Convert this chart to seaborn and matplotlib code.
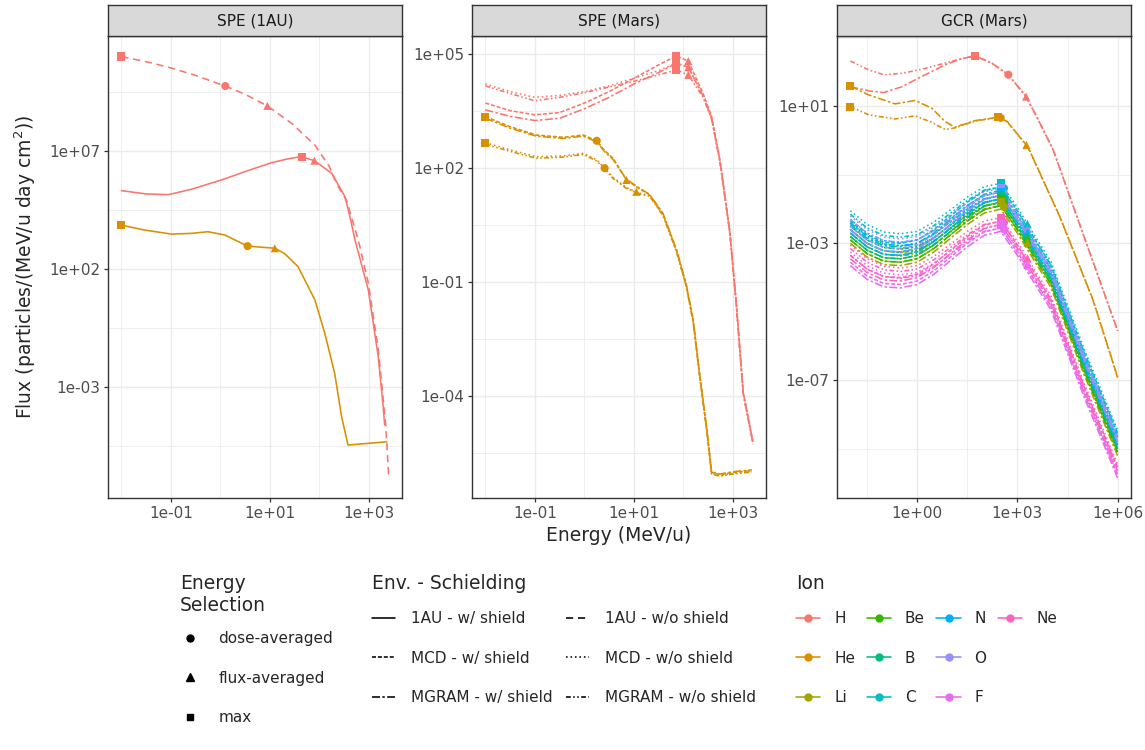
import matplotlib
matplotlib.use("Agg")

import matplotlib.pyplot as plt
import numpy as np
import pandas as pd
import seaborn as sns
from matplotlib.lines import Line2D
from matplotlib.ticker import FixedLocator, FuncFormatter, NullFormatter

# ----------------------------------------------------------------------------
# Data: log10(energy, MeV/u) and log10(flux)
# ----------------------------------------------------------------------------
IONS = ["H", "He", "Li", "Be", "B", "C", "N", "O", "F", "Ne"]
ION_COLORS = ["#F8766D", "#D89000", "#A3A500", "#39B600", "#00BF7D",
              "#00BFC4", "#00B0F6", "#9590FF", "#E76BF3", "#FF62BC"]
ENVS = ["1AU - w/ shield", "1AU - w/o shield", "MCD - w/ shield",
        "MCD - w/o shield", "MGRAM - w/ shield", "MGRAM - w/o shield"]
SELECTIONS = ["dose-averaged", "flux-averaged", "max"]
PANELS = ["SPE (1AU)", "SPE (Mars)", "GCR (Mars)"]

# SPE (1AU)
SPE1_H_W_E = [-2.0, -1.5, -1.05, -0.58, 0.02, 0.56, 1.03, 1.35, 1.63, 1.9,
              2.25, 2.52, 2.62, 2.72, 2.99, 3.19, 3.29, 3.32]
SPE1_H_W_F = [5.32, 5.18, 5.15, 5.38, 5.77, 6.17, 6.5, 6.66, 6.76, 6.59,
              6.05, 5.06, 4.2, 3.23, 1.11, -1.72, -3.83, -4.61]
SPE1_H_WO_E = [-2.0, -1.5, -1.05, -0.5, 0.1, 0.5, 0.95, 1.44, 1.91, 2.2,
               2.38, 2.55, 2.79, 2.99, 3.19, 3.29, 3.34, 3.37, 3.4]
SPE1_H_WO_F = [11.0, 10.78, 10.55, 10.2, 9.75, 9.4, 8.91, 8.17, 7.25, 6.35,
               5.49, 4.9, 3.2, 1.4, -1.4, -3.5, -4.6, -5.6, -6.8]
SPE1_HE_W_E = [-2.0, -1.53, -0.99, -0.58, -0.25, 0.09, 0.55, 1.1, 1.3, 1.57,
               1.91, 2.11, 2.31, 2.45, 2.58, 2.78, 3.36]
SPE1_HE_W_F = [3.86, 3.65, 3.48, 3.51, 3.58, 3.44, 2.97, 2.88, 2.65, 2.1,
               0.69, -0.72, -2.42, -4.26, -5.46, -5.42, -5.32]

SPE1_MARK_ION = ["H", "H", "H", "H", "H", "He", "He", "He"]
SPE1_MARK_SEL = ["max", "dose-averaged", "flux-averaged", "max",
                 "flux-averaged", "max", "dose-averaged", "flux-averaged"]
SPE1_MARK_E = [-2.0, 0.1, 0.95, 1.65, 1.9, -2.0, 0.55, 1.1]
SPE1_MARK_F = [11.0, 9.75, 8.91, 6.76, 6.59, 3.86, 2.97, 2.88]

# SPE (Mars)
SPE2_H_E = [-2.0, -1.5, -1.0, -0.5, 0.0, 0.5, 1.0, 1.5, 1.86, 2.1, 2.4,
            2.57, 2.74, 2.94, 3.07, 3.21, 3.41]
SPE2_H_MCD_W = [3.70, 3.5, 3.39, 3.45, 3.7, 4.0, 4.35, 4.7, 4.94, 4.8, 3.95,
                3.35, 2.2, 0.32, -1.56, -3.9, -5.22]
SPE2_H_MCD_WO = [4.2, 4.0, 3.85, 3.9, 4.0, 4.15, 4.35, 4.55, 4.75, 4.64, 3.9,
                 3.3, 2.17, 0.3, -1.58, -3.92, -5.24]
SPE2_H_MGRAM_W = [3.52, 3.35, 3.24, 3.3, 3.55, 3.85, 4.2, 4.5, 4.75, 4.64,
                  3.88, 3.3, 2.17, 0.3, -1.58, -3.92, -5.24]
SPE2_H_MGRAM_WO = [4.15, 3.95, 3.76, 3.85, 3.97, 4.12, 4.27, 4.44, 4.57, 4.44,
                   3.85, 3.28, 2.15, 0.28, -1.6, -3.94, -5.26]

SPE2_HE_E = [-2.0, -1.5, -0.97, -0.43, -0.02, 0.25, 0.41, 0.58, 0.85, 1.12,
             1.32, 1.59, 1.86, 2.06, 2.2, 2.33, 2.47, 2.57, 2.74, 3.0, 3.38]
SPE2_HE_MCD_W = [3.34, 3.08, 2.86, 2.80, 2.86, 2.71, 2.45, 2.25, 1.68, 1.44,
                 1.29, 0.78, -0.16, -1.09, -2.03, -3.44, -4.84, -6.0, -6.06,
                 -6.0, -5.95]
SPE2_HE_MGRAM_W = [3.30, 3.04, 2.83, 2.77, 2.83, 2.68, 2.42, 2.22, 1.70, 1.46,
                   1.30, 0.80, -0.14, -1.07, -2.0, -3.42, -4.82, -5.98, -6.04,
                   -5.98, -5.93]
SPE2_HE_MCD_WO = [2.66, 2.47, 2.29, 2.31, 2.38, 2.21, 1.99, 1.75, 1.48, 1.33,
                  1.27, 0.76, -0.18, -1.1, -2.05, -3.46, -4.86, -6.02, -6.08,
                  -6.02, -5.97]
SPE2_HE_MGRAM_WO = [2.62, 2.43, 2.25, 2.28, 2.35, 2.18, 1.97, 1.72, 1.46,
                    1.31, 1.25, 0.74, -0.2, -1.12, -2.07, -3.48, -4.88, -6.04,
                    -6.1, -6.04, -5.99]

SPE2_MARK_ION = ["H", "H", "H", "H", "H", "H",
                 "He", "He", "He", "He", "He", "He"]
SPE2_MARK_SEL = ["max", "max", "max", "flux-averaged", "flux-averaged",
                 "flux-averaged", "max", "max", "dose-averaged",
                 "dose-averaged", "flux-averaged", "flux-averaged"]
SPE2_MARK_E = [1.86, 1.86, 1.86, 2.1, 2.1, 2.1,
               -2.0, -2.0, 0.25, 0.41, 0.85, 1.05]
SPE2_MARK_F = [4.94, 4.75, 4.57, 4.8, 4.64, 4.44,
               3.34, 2.66, 2.71, 1.99, 1.68, 1.37]

# GCR (Mars), H and He
GCR_H_E = [-2.0, -1.45, -1.0, -0.46, 0.14, 0.84, 1.3, 1.73, 2.23, 2.73,
           3.26, 3.6, 4.07, 5.0, 6.0]
GCR_H_MGRAM_W = [1.57, 1.45, 1.40, 1.57, 1.87, 2.21, 2.38, 2.47, 2.26, 1.92,
                 1.28, 0.65, -0.27, -2.82, -5.55]
GCR_H_MGRAM_WO = [2.32, 2.06, 1.92, 1.96, 2.08, 2.26, 2.38, 2.47, 2.26, 1.92,
                  1.28, 0.65, -0.27, -2.82, -5.55]
GCR_HE_E = [-2.0, -1.45, -0.66, -0.06, 0.44, 0.84, 1.13, 1.73, 2.43, 2.7,
            3.27, 3.37, 4.27, 5.26, 6.0]
GCR_HE_MGRAM_W = [1.59, 1.33, 1.07, 1.17, 0.94, 0.55, 0.39, 0.58, 0.68, 0.55,
                  -0.13, -0.3, -2.22, -4.64, -6.9]
GCR_HE_MGRAM_WO = [0.99, 0.75, 0.63, 0.72, 0.53, 0.32, 0.37, 0.57, 0.67, 0.54,
                   -0.14, -0.31, -2.23, -4.65, -6.92]

# GCR (Mars), heavy ions: rows = MCD w/, MCD w/o, MGRAM w/, MGRAM w/o
GCR_HEAVY_E = [-2.0, -1.5, -1.0, -0.5, 0.0, 0.5, 1.0, 1.5, 2.0, 2.5, 3.0,
               3.5, 4.0, 5.0, 6.0]
GCR_C = [
    [-2.35, -2.75, -2.97, -3.0, -2.9, -2.6, -2.2, -1.8, -1.47, -1.35, -2.05, -2.85, -3.63, -6.19, -8.55],
    [-2.05, -2.45, -2.67, -2.72, -2.65, -2.38, -2.02, -1.65, -1.35, -1.25, -1.95, -2.75, -3.53, -6.09, -8.45],
    [-2.45, -2.85, -3.07, -3.1, -3.0, -2.7, -2.3, -1.9, -1.57, -1.45, -2.15, -2.95, -3.73, -6.29, -8.65],
    [-2.15, -2.55, -2.77, -2.82, -2.75, -2.48, -2.12, -1.75, -1.45, -1.35, -2.05, -2.85, -3.63, -6.19, -8.55],
]
GCR_O = [
    [-2.5, -2.9, -3.12, -3.15, -3.05, -2.75, -2.35, -1.95, -1.62, -1.5, -2.2, -3.0, -3.78, -6.34, -8.7],
    [-2.2, -2.6, -2.82, -2.87, -2.8, -2.53, -2.17, -1.8, -1.5, -1.4, -2.1, -2.9, -3.68, -6.24, -8.6],
    [-2.6, -3.0, -3.22, -3.25, -3.15, -2.85, -2.45, -2.05, -1.72, -1.6, -2.3, -3.1, -3.88, -6.44, -8.8],
    [-2.3, -2.7, -2.92, -2.97, -2.9, -2.63, -2.27, -1.9, -1.6, -1.5, -2.2, -3.0, -3.78, -6.34, -8.7],
]
GCR_N = [
    [-2.6, -3.0, -3.22, -3.25, -3.15, -2.85, -2.45, -2.05, -1.72, -1.6, -2.3, -3.1, -3.88, -6.44, -8.8],
    [-2.3, -2.7, -2.92, -2.97, -2.9, -2.63, -2.27, -1.9, -1.6, -1.5, -2.2, -3.0, -3.78, -6.34, -8.7],
    [-2.7, -3.1, -3.32, -3.35, -3.25, -2.95, -2.55, -2.15, -1.82, -1.7, -2.4, -3.2, -3.98, -6.54, -8.9],
    [-2.4, -2.8, -3.02, -3.07, -3.0, -2.73, -2.37, -2.0, -1.7, -1.6, -2.3, -3.1, -3.88, -6.44, -8.8],
]
GCR_B = [
    [-2.7, -3.1, -3.32, -3.35, -3.25, -2.95, -2.55, -2.15, -1.82, -1.7, -2.4, -3.2, -3.98, -6.54, -8.9],
    [-2.4, -2.8, -3.02, -3.07, -3.0, -2.73, -2.37, -2.0, -1.7, -1.6, -2.3, -3.1, -3.88, -6.44, -8.8],
    [-2.8, -3.2, -3.42, -3.45, -3.35, -3.05, -2.65, -2.25, -1.92, -1.8, -2.5, -3.3, -4.08, -6.64, -9.0],
    [-2.5, -2.9, -3.12, -3.17, -3.1, -2.83, -2.47, -2.1, -1.8, -1.7, -2.4, -3.2, -3.98, -6.54, -8.9],
]
GCR_BE = [
    [-2.8, -3.2, -3.42, -3.45, -3.35, -3.05, -2.65, -2.25, -1.92, -1.8, -2.5, -3.3, -4.08, -6.64, -9.0],
    [-2.5, -2.9, -3.12, -3.17, -3.1, -2.83, -2.47, -2.1, -1.8, -1.7, -2.4, -3.2, -3.98, -6.54, -8.9],
    [-2.9, -3.3, -3.52, -3.55, -3.45, -3.15, -2.75, -2.35, -2.02, -1.9, -2.6, -3.4, -4.18, -6.74, -9.1],
    [-2.6, -3.0, -3.22, -3.27, -3.2, -2.93, -2.57, -2.2, -1.9, -1.8, -2.5, -3.3, -4.08, -6.64, -9.0],
]
GCR_LI = [
    [-2.9, -3.3, -3.52, -3.55, -3.45, -3.15, -2.75, -2.35, -2.02, -1.9, -2.6, -3.4, -4.18, -6.74, -9.1],
    [-2.6, -3.0, -3.22, -3.27, -3.2, -2.93, -2.57, -2.2, -1.9, -1.8, -2.5, -3.3, -4.08, -6.64, -9.0],
    [-3.0, -3.4, -3.62, -3.65, -3.55, -3.25, -2.85, -2.45, -2.12, -2.0, -2.7, -3.5, -4.28, -6.84, -9.2],
    [-2.7, -3.1, -3.32, -3.37, -3.3, -3.03, -2.67, -2.3, -2.0, -1.9, -2.6, -3.4, -4.18, -6.74, -9.1],
]
GCR_NE = [
    [-3.35, -3.75, -3.97, -4.0, -3.9, -3.6, -3.2, -2.8, -2.47, -2.35, -3.05, -3.85, -4.63, -7.19, -9.55],
    [-3.05, -3.45, -3.67, -3.72, -3.65, -3.38, -3.02, -2.65, -2.35, -2.25, -2.95, -3.75, -4.53, -7.09, -9.45],
    [-3.45, -3.85, -4.07, -4.1, -4.0, -3.7, -3.3, -2.9, -2.57, -2.45, -3.15, -3.95, -4.73, -7.29, -9.65],
    [-3.15, -3.55, -3.77, -3.82, -3.75, -3.48, -3.12, -2.75, -2.45, -2.35, -3.05, -3.85, -4.63, -7.19, -9.55],
]
GCR_F = [
    [-3.55, -3.95, -4.17, -4.2, -4.1, -3.8, -3.4, -3.0, -2.67, -2.55, -3.25, -4.05, -4.83, -7.39, -9.75],
    [-3.25, -3.65, -3.87, -3.92, -3.85, -3.58, -3.22, -2.85, -2.55, -2.45, -3.15, -3.95, -4.73, -7.29, -9.65],
    [-3.65, -4.05, -4.27, -4.3, -4.2, -3.9, -3.5, -3.1, -2.77, -2.65, -3.35, -4.15, -4.93, -7.49, -9.85],
    [-3.35, -3.75, -3.97, -4.02, -3.95, -3.68, -3.32, -2.95, -2.65, -2.55, -3.25, -4.05, -4.83, -7.39, -9.75],
]

GCR_MARK_ION = ["H", "H", "H", "He", "He", "He", "He", "He",
                "C", "C", "C", "O", "O", "O", "N", "N", "N",
                "B", "B", "B", "Be", "Be", "Be", "Li", "Li", "Li",
                "Ne", "Ne", "Ne", "F", "F", "F"]
GCR_MARK_SEL = ["max", "dose-averaged", "flux-averaged",
                "max", "max", "max", "dose-averaged", "flux-averaged"] + \
               ["max", "dose-averaged", "flux-averaged"] * 8
GCR_MARK_E = [1.73, 2.73, 3.26, -2.0, -2.0, 2.43, 2.5, 3.27] + [2.5, 2.6, 3.3] * 8
GCR_MARK_F = [2.47, 1.92, 1.28, 1.59, 0.99, 0.68, 0.66, -0.13,
              -1.25, -1.39, -2.43, -1.4, -1.54, -2.58, -1.5, -1.64, -2.68,
              -1.6, -1.74, -2.78, -1.7, -1.84, -2.88, -1.8, -1.94, -2.98,
              -2.25, -2.39, -3.43, -2.45, -2.59, -3.63]

# ----------------------------------------------------------------------------
# Styling
# ----------------------------------------------------------------------------
PALETTE = dict(zip(IONS, ION_COLORS))
DASHES = {
    "1AU - w/ shield": "",
    "1AU - w/o shield": (4.5, 3),
    "MCD - w/ shield": (2.5, 1.2),
    "MCD - w/o shield": (1, 1.8),
    "MGRAM - w/ shield": (5, 1.5, 1.5, 1.5),
    "MGRAM - w/o shield": (3, 1.5, 1, 1.5, 1, 1.5),
}
MARKERS = {"dose-averaged": "o", "flux-averaged": "^", "max": "s"}
LINE_W = 1.15


def build_lines():
    rows = []

    def add(panel, ion, env, log_e, log_f):
        cid = f"{panel}|{ion}|{env}"
        for e, f in zip(log_e, log_f):
            rows.append({"Panel": panel, "Ion": ion, "Env": env, "Curve": cid,
                         "Energy": 10.0 ** e, "Flux": 10.0 ** f})

    add(PANELS[0], "H", ENVS[0], SPE1_H_W_E, SPE1_H_W_F)
    add(PANELS[0], "H", ENVS[1], SPE1_H_WO_E, SPE1_H_WO_F)
    add(PANELS[0], "He", ENVS[0], SPE1_HE_W_E, SPE1_HE_W_F)

    add(PANELS[1], "H", ENVS[2], SPE2_H_E, SPE2_H_MCD_W)
    add(PANELS[1], "H", ENVS[3], SPE2_H_E, SPE2_H_MCD_WO)
    add(PANELS[1], "H", ENVS[4], SPE2_H_E, SPE2_H_MGRAM_W)
    add(PANELS[1], "H", ENVS[5], SPE2_H_E, SPE2_H_MGRAM_WO)
    add(PANELS[1], "He", ENVS[2], SPE2_HE_E, SPE2_HE_MCD_W)
    add(PANELS[1], "He", ENVS[3], SPE2_HE_E, SPE2_HE_MCD_WO)
    add(PANELS[1], "He", ENVS[4], SPE2_HE_E, SPE2_HE_MGRAM_W)
    add(PANELS[1], "He", ENVS[5], SPE2_HE_E, SPE2_HE_MGRAM_WO)

    add(PANELS[2], "H", ENVS[4], GCR_H_E, GCR_H_MGRAM_W)
    add(PANELS[2], "H", ENVS[5], GCR_H_E, GCR_H_MGRAM_WO)
    add(PANELS[2], "He", ENVS[4], GCR_HE_E, GCR_HE_MGRAM_W)
    add(PANELS[2], "He", ENVS[5], GCR_HE_E, GCR_HE_MGRAM_WO)
    heavy = {"Li": GCR_LI, "Be": GCR_BE, "B": GCR_B, "C": GCR_C,
             "N": GCR_N, "O": GCR_O, "F": GCR_F, "Ne": GCR_NE}
    for ion, curves in heavy.items():
        for env, log_f in zip(ENVS[2:], curves):
            add(PANELS[2], ion, env, GCR_HEAVY_E, log_f)
    return pd.DataFrame(rows)


def build_marks():
    frames = []
    for panel, ions, sels, es, fs in [
        (PANELS[0], SPE1_MARK_ION, SPE1_MARK_SEL, SPE1_MARK_E, SPE1_MARK_F),
        (PANELS[1], SPE2_MARK_ION, SPE2_MARK_SEL, SPE2_MARK_E, SPE2_MARK_F),
        (PANELS[2], GCR_MARK_ION, GCR_MARK_SEL, GCR_MARK_E, GCR_MARK_F),
    ]:
        frames.append(pd.DataFrame({
            "Panel": panel, "Ion": ions, "Selection": sels,
            "Energy": 10.0 ** np.array(es), "Flux": 10.0 ** np.array(fs),
        }))
    return pd.concat(frames, ignore_index=True)


# axis layout per panel (log10 limits / breaks, ggplot-like)
X_LIM = [(-2.27, 3.67), (-2.27, 3.67), (-2.4, 6.4)]
Y_LIM = [(-7.70, 11.87), (-6.67, 5.46), (-10.43, 3.05)]
X_MAJOR = [[-1, 1, 3], [-1, 1, 3], [0, 3, 6]]
X_MINOR = [[-2, 0, 2], [-2, 0, 2], [-1.5, 1.5, 4.5]]
Y_MAJOR = [[-3, 2, 7], [-4, -1, 2, 5], [-7, -3, 1]]
Y_MINOR = [[-5.5, -0.5, 4.5, 9.5], [-5.5, -2.5, 0.5, 3.5], [-9, -5, -1, 3]]

W_PX, H_PX = 1145, 750
PANEL_LEFT = [108, 472, 837]
PANEL_W = 294
PANEL_TOP, PANEL_BOTTOM, STRIP_TOP = 36, 498, 5


def main():
    sns.set_theme(style="white")
    plt.rcParams["font.family"] = ["DejaVu Sans"]

    lines = build_lines()
    marks = build_marks()

    fig = plt.figure(figsize=(W_PX / 100, H_PX / 100), dpi=100)
    fmt = FuncFormatter(lambda v, _: f"{v:.0e}")

    for i, panel in enumerate(PANELS):
        left = PANEL_LEFT[i] / W_PX
        ax = fig.add_axes([left, 1 - PANEL_BOTTOM / H_PX, PANEL_W / W_PX,
                           (PANEL_BOTTOM - PANEL_TOP) / H_PX])
        ax.set_xscale("log")
        ax.set_yscale("log")

        sns.lineplot(data=lines[lines["Panel"] == panel], x="Energy", y="Flux",
                     hue="Ion", style="Env", units="Curve", estimator=None,
                     sort=False, palette=PALETTE, dashes=DASHES,
                     linewidth=LINE_W, legend=False, ax=ax)
        sns.scatterplot(data=marks[marks["Panel"] == panel], x="Energy",
                        y="Flux", hue="Ion", style="Selection",
                        markers=MARKERS, palette=PALETTE, s=34, linewidth=0,
                        legend=False, ax=ax, zorder=5)

        ax.set_xlim(10 ** X_LIM[i][0], 10 ** X_LIM[i][1])
        ax.set_ylim(10 ** Y_LIM[i][0], 10 ** Y_LIM[i][1])
        ax.xaxis.set_major_locator(FixedLocator([10.0 ** v for v in X_MAJOR[i]]))
        ax.xaxis.set_minor_locator(FixedLocator([10.0 ** v for v in X_MINOR[i]]))
        ax.yaxis.set_major_locator(FixedLocator([10.0 ** v for v in Y_MAJOR[i]]))
        ax.yaxis.set_minor_locator(FixedLocator([10.0 ** v for v in Y_MINOR[i]]))
        ax.xaxis.set_major_formatter(fmt)
        ax.yaxis.set_major_formatter(fmt)
        ax.xaxis.set_minor_formatter(NullFormatter())
        ax.yaxis.set_minor_formatter(NullFormatter())

        ax.grid(which="major", color="#EBEBEB", linewidth=1.0)
        ax.grid(which="minor", color="#EBEBEB", linewidth=0.6)
        ax.set_axisbelow(True)
        ax.tick_params(which="major", direction="out", length=3, width=0.9,
                       color="#333333", labelcolor="#4D4D4D", labelsize=11,
                       pad=2.5, bottom=True, left=True)
        ax.tick_params(which="minor", length=0)
        for sp in ax.spines.values():
            sp.set_color("#333333")
            sp.set_linewidth(1.0)
        ax.set_xlabel("")
        ax.set_ylabel("")

        strip = fig.add_axes([left, 1 - PANEL_TOP / H_PX, PANEL_W / W_PX,
                              (PANEL_TOP - STRIP_TOP) / H_PX])
        strip.set_facecolor("#D9D9D9")
        strip.set_xticks([])
        strip.set_yticks([])
        for sp in strip.spines.values():
            sp.set_color("#333333")
            sp.set_linewidth(1.0)
        strip.text(0.5, 0.5, panel, ha="center", va="center", fontsize=11,
                   color="#1A1A1A", transform=strip.transAxes)

        if i == 0:
            ax.set_ylabel("Flux (particles/(MeV/u day cm$^2$))", fontsize=13.5,
                          labelpad=8)
        if i == 1:
            ax.set_xlabel("Energy (MeV/u)", fontsize=13.5, labelpad=4)

    # ---- legends ----
    common = dict(loc="upper left", frameon=False, borderpad=0,
                  borderaxespad=0, fontsize=11, title_fontsize=13.5,
                  alignment="left", labelspacing=1.6)

    sel_handles = [Line2D([], [], ls="none", marker=MARKERS[s], color="black",
                          markersize=5 if s != "flux-averaged" else 6)
                   for s in SELECTIONS]
    leg1 = fig.legend(sel_handles, SELECTIONS, title="Energy\nSelection",
                      bbox_to_anchor=(180 / W_PX, 1 - 574 / H_PX),
                      handlelength=1.3, handletextpad=1.2, **common)
    leg1._legend_box.sep = 11.8

    env_order = [ENVS[0], ENVS[2], ENVS[4], ENVS[1], ENVS[3], ENVS[5]]
    env_handles = []
    for e in env_order:
        if DASHES[e] == "":
            env_handles.append(Line2D([], [], color="black", lw=LINE_W))
        else:
            env_handles.append(Line2D([], [], color="black", lw=LINE_W,
                                      dashes=DASHES[e]))
    leg2 = fig.legend(env_handles, env_order, title="Env. - Schielding", ncol=2,
                      bbox_to_anchor=(372 / W_PX, 1 - 574 / H_PX),
                      handlelength=1.5, handletextpad=1.05, columnspacing=0.9,
                      **common)
    leg2._legend_box.sep = 13.2

    ion_handles = [Line2D([], [], color=PALETTE[ion], lw=LINE_W, marker="o",
                          markersize=5) for ion in IONS]
    ion_labels = list(IONS)
    # two empty slots so the 4th column holds only "Ne" (row-major as in ggplot)
    ion_handles += [Line2D([], [], alpha=0), Line2D([], [], alpha=0)]
    ion_labels += ["", ""]
    leg3 = fig.legend(ion_handles, ion_labels, title="Ion", ncol=4,
                      bbox_to_anchor=(796 / W_PX, 1 - 574 / H_PX),
                      handlelength=1.6, handletextpad=0.9, columnspacing=0.75,
                      **common)
    leg3._legend_box.sep = 13.2

    fig.savefig("out.png", dpi=100)
    plt.close(fig)


if __name__ == "__main__":
    main()
